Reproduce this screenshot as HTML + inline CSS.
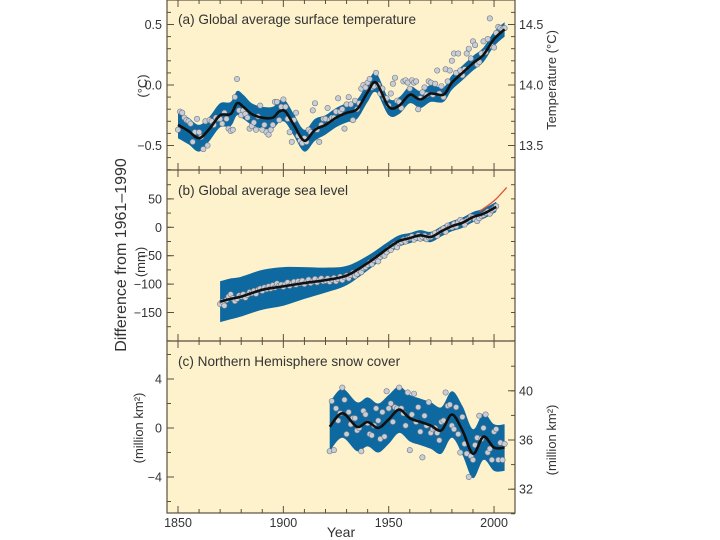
<!DOCTYPE html>
<html><head><meta charset="utf-8"><style>
html,body{margin:0;padding:0;background:#fff;}
svg{display:block;font-family:"Liberation Sans",sans-serif;}
</style></head><body>
<svg id="chart" width="720" height="540" viewBox="0 0 720 540">
<rect x="167" y="0" width="348" height="513" fill="#fdf2cc"/>
<g id="marks"></g>
<g id="axes"></g>
<text x="178" y="24" font-size="13.6" fill="#333">(a) Global average surface temperature</text>
<text x="178" y="195" font-size="13.6" fill="#333">(b) Global average sea level</text>
<text x="178" y="366" font-size="13.6" fill="#333">(c) Northern Hemisphere snow cover</text>
<text transform="translate(126,255) rotate(-90)" text-anchor="middle" font-size="16" fill="#333">Difference from 1961–1990</text>
<text transform="translate(147,86) rotate(-90)" text-anchor="middle" font-size="13" fill="#333">(°C)</text>
<text transform="translate(145,262) rotate(-90)" text-anchor="middle" font-size="13" fill="#333">(mm)</text>
<text transform="translate(143,428) rotate(-90)" text-anchor="middle" font-size="13" fill="#333">(million km²)</text>
<text transform="translate(556,80) rotate(-90)" text-anchor="middle" font-size="13" fill="#333">Temperature (°C)</text>
<text transform="translate(556,440) rotate(-90)" text-anchor="middle" font-size="13" fill="#333">(million km²)</text>
<text x="341" y="537" text-anchor="middle" font-size="14" fill="#333">Year</text>
</svg>
<script>
// ---- data ----
const tempStart = 1850;
const tempValues = [-0.37,-0.22,-0.23,-0.27,-0.29,-0.30,-0.32,-0.47,-0.39,-0.28,-0.39,-0.43,-0.53,-0.30,-0.50,-0.29,-0.30,-0.33,-0.27,-0.28,
-0.28,-0.32,-0.23,-0.28,-0.36,-0.38,-0.37,-0.10,0.05,-0.21,-0.25,-0.21,-0.24,-0.27,-0.36,-0.34,-0.31,-0.37,-0.26,-0.17,
-0.37,-0.33,-0.39,-0.41,-0.37,-0.33,-0.14,-0.14,-0.29,-0.18,-0.12,-0.18,-0.28,-0.39,-0.47,-0.29,-0.23,-0.42,-0.46,-0.48,
-0.44,-0.47,-0.37,-0.39,-0.21,-0.15,-0.37,-0.47,-0.33,-0.28,-0.28,-0.19,-0.29,-0.27,-0.27,-0.22,-0.11,-0.22,-0.20,-0.36,
-0.16,-0.10,-0.16,-0.29,-0.13,-0.20,-0.15,-0.03,0.00,-0.02,0.02,0.05,-0.02,-0.01,0.10,0.00,-0.07,-0.03,-0.11,-0.11,
-0.17,-0.07,0.01,0.06,-0.13,-0.14,-0.19,0.03,0.04,0.02,-0.03,0.04,0.02,0.03,-0.20,-0.11,-0.06,-0.02,-0.08,0.03,
0.02,-0.08,0.01,0.12,-0.07,-0.01,-0.10,0.13,0.03,0.12,0.20,0.26,0.10,0.26,0.12,0.08,0.13,0.26,0.30,0.22,
0.36,0.33,0.17,0.19,0.26,0.36,0.27,0.38,0.55,0.32,0.31,0.43,0.48,0.47,0.46,0.47];
const tempSmoothYears = [1850,1855,1860,1865,1870,1875,1878,1881,1885,1890,1895,1898,1901,1905,1910,1915,1920,1925,1930,1935,1940,1944,1950,1955,1960,1965,1970,1976,1980,1985,1990,1995,2000,2005];
const tempSmooth = [-0.33,-0.38,-0.44,-0.36,-0.25,-0.24,-0.15,-0.18,-0.24,-0.27,-0.27,-0.22,-0.22,-0.33,-0.46,-0.37,-0.33,-0.27,-0.23,-0.20,-0.06,0.02,-0.18,-0.17,-0.08,-0.12,-0.07,-0.08,0.02,0.10,0.18,0.25,0.38,0.46];
const tempBand = [0.11,0.11,0.11,0.10,0.10,0.10,0.10,0.10,0.09,0.09,0.09,0.09,0.09,0.09,0.09,0.09,0.08,0.08,0.08,0.08,0.08,0.08,0.07,0.07,0.07,0.07,0.07,0.06,0.06,0.06,0.06,0.06,0.06,0.06];

const seaStart = 1870;
const seaValues = [-135,-131,-138,-128,-122,-118,-125,-130,-126,-120,
-122,-118,-124,-119,-114,-116,-112,-117,-110,-108,
-112,-106,-109,-104,-108,-102,-106,-99,-103,-101,
-105,-100,-97,-103,-99,-96,-101,-95,-98,-94,
-100,-96,-92,-98,-95,-91,-97,-93,-90,-95,
-94,-90,-96,-92,-89,-95,-91,-87,-93,-88,
-85,-90,-84,-80,-86,-82,-76,-79,-72,-70,
-66,-62,-65,-58,-55,-60,-52,-48,-50,-44,
-38,-40,-33,-30,-35,-28,-26,-22,-25,-20,
-19,-16,-22,-18,-14,-20,-17,-15,-21,-18,
-17,-13,-10,-15,-8,-5,-2,-8,3,0,
0,6,2,9,13,10,5,12,14,19,
18,14,11,16,20,22,25,28,24,30,
33,37];
const seaSmoothYears = [1870,1875,1880,1890,1900,1910,1920,1930,1940,1950,1955,1960,1965,1970,1975,1980,1985,1990,1995,2001];
const seaSmooth = [-131,-126,-122,-110,-104,-98,-93,-85,-63,-36,-24,-19,-14,-17,-7,2,8,18,24,36];
const seaBand = [36,36,35,35,34,28,22,17,13,11,10,9,9,9,9,9,9,9,9,9];
const satYears = [1993,1997,2001,2006];
const satValues = [28,38,50,70];

const snowStart = 1922;
const snowValues = [-1.9,2.2,-1.8,1.6,0.6,1.2,3.3,2.3,-0.5,1.3,0.3,0.8,0.8,-0.2,0.0,-1.9,1.4,1.1,0.4,-0.5,
-0.6,0.2,1.6,0.6,-0.9,1.3,-0.7,3.0,1.6,2.0,0.5,1.7,1.6,3.3,1.6,1.2,0.2,2.9,-1.8,1.1,
2.8,0.5,1.7,-0.3,-2.4,1.0,0.2,2.1,-0.4,-0.1,0.0,-0.4,-1.0,0.5,0.6,2.9,1.8,1.9,0.2,-0.1,
1.7,-0.5,-2.0,0.9,-1.3,-2.1,-4.0,-2.3,-2.6,-1.4,-0.8,1.0,-0.9,0.0,1.1,-2.0,-1.7,-2.6,-0.3,-0.1,
-2.6,-1.2,-2.6,-1.3];
const snowSmoothYears = [1922,1928,1935,1940,1945,1950,1955,1960,1965,1970,1975,1980,1985,1990,1995,2000,2005];
const snowSmooth = [0.1,1.2,0.1,0.5,0.0,0.7,1.5,0.8,0.5,0.2,-0.2,1.1,-0.2,-2.1,-0.7,-1.6,-1.6];
const snowBand = [2.0,2.0,2.0,2.0,2.0,2.0,1.9,1.9,1.9,1.9,1.9,1.9,2.0,2.0,1.9,1.9,1.9];

// ---- scales ----
const xs = yr => 178 + (yr - 1850) * 2.107;
const ya = v => 85 - v * 121;
const yb = v => 227.3 - v * 0.568;
const yc = v => 428 - v * 12.25;
const ycr = v => 440 - (v - 36) * 12.3;

const NS = "http://www.w3.org/2000/svg";
const marks = document.getElementById('marks');
const axes = document.getElementById('axes');
function mk(tag, attrs, parent) {
  const e = document.createElementNS(NS, tag);
  for (const k in attrs) e.setAttribute(k, attrs[k]);
  parent.appendChild(e);
  return e;
}
function spline(pts) {
  let d = 'M' + pts[0][0].toFixed(1) + ',' + pts[0][1].toFixed(1);
  for (let i = 0; i < pts.length - 1; i++) {
    const p0 = pts[Math.max(0, i - 1)], p1 = pts[i], p2 = pts[i + 1], p3 = pts[Math.min(pts.length - 1, i + 2)];
    const c1 = [p1[0] + (p2[0] - p0[0]) / 6, p1[1] + (p2[1] - p0[1]) / 6];
    const c2 = [p2[0] - (p3[0] - p1[0]) / 6, p2[1] - (p3[1] - p1[1]) / 6];
    d += 'C' + c1[0].toFixed(1) + ',' + c1[1].toFixed(1) + ' ' + c2[0].toFixed(1) + ',' + c2[1].toFixed(1) + ' ' + p2[0].toFixed(1) + ',' + p2[1].toFixed(1);
  }
  return d;
}
function splineRev(pts) {
  const r = pts.slice().reverse();
  return spline(r).replace(/^M/, 'L');
}
function drawPanel(key, years, smooth, band, start, values, ys) {
  const up = years.map((y, i) => [xs(y), ys(smooth[i] + band[i])]);
  const lo = years.map((y, i) => [xs(y), ys(smooth[i] - band[i])]);
  const b = mk('path', {d: spline(up) + splineRev(lo) + 'Z', fill: '#0e69a0'}, marks);
  
  
  values.forEach((v, i) => {
    const c = mk('circle', {cx: xs(start + i).toFixed(1), cy: ys(v).toFixed(1), r: 2.7, fill: '#c9cdd6', stroke: '#6f7884', 'stroke-width': 0.6}, marks);
    
    
  });
  const l = mk('path', {d: spline(years.map((y, i) => [xs(y), ys(smooth[i])])), fill: 'none', stroke: '#111', 'stroke-width': 2.6}, marks);
  
  
}
drawPanel('temperature', tempSmoothYears, tempSmooth, tempBand, tempStart, tempValues, ya);
drawPanel('sea-level', seaSmoothYears, seaSmooth, seaBand, seaStart, seaValues, yb);
drawPanel('snow-cover', snowSmoothYears, snowSmooth, snowBand, snowStart, snowValues, yc);
const sat = mk('path', {d: spline(satYears.map((y, i) => [xs(y), yb(satValues[i])])), fill: 'none', stroke: '#e0553a', 'stroke-width': 1.3}, marks);



// ---- axes ----
const C = '#5a5040';
const frame = mk('rect', {x: 167, y: 0, width: 348, height: 513, fill: 'none', stroke: C, 'stroke-width': 1.2}, axes);


[170, 341].forEach(y => {
  const l = mk('line', {x1: 167, x2: 515, y1: y, y2: y, stroke: C, 'stroke-width': 1.2}, axes);
  
  
});
for (let yr = 1850; yr <= 2000; yr += 10) {
  const x = xs(yr), len = yr % 50 === 0 ? 7 : 4;
  [[0, 1], [170, -1], [170, 1], [341, -1], [341, 1], [513, -1]].forEach(([y, dir]) => {
    mk('line', {x1: x, x2: x, y1: y, y2: y + dir * len, stroke: C, 'stroke-width': 1}, axes);
  });
}
const xLabels = [1850, 1900, 1950, 2000];
xLabels.forEach(yr => {
  const t = mk('text', {x: xs(yr), y: 527, 'text-anchor': 'middle', 'font-size': 12.5, fill: '#333'}, axes);
  t.textContent = yr;
  
  
});
function yTicks(scale, vals, labels, minorStep, lo, hi, side) {
  const x0 = side === 'left' ? 167 : 515, dir = side === 'left' ? 1 : -1;
  for (let v = lo; v <= hi + 1e-9; v += minorStep) {
    const y = scale(v);
    mk('line', {x1: x0, x2: x0 + dir * 4, y1: y, y2: y, stroke: C, 'stroke-width': 1}, axes);
  }
  vals.forEach((v, i) => {
    const y = scale(v);
    mk('line', {x1: x0, x2: x0 + dir * 7, y1: y, y2: y, stroke: C, 'stroke-width': 1}, axes);
    const t = mk('text', {x: side === 'left' ? 162 : 519, y: y + 4.5, 'text-anchor': side === 'left' ? 'end' : 'start', 'font-size': 12.5, fill: '#333'}, axes);
    t.textContent = labels[i];
    
    
  });
}
yTicks(ya, [0.5, 0, -0.5], ['0.5', '0.0', '−0.5'], 0.1, -0.7, 0.6, 'left');
yTicks(v => 85 - (v - 14) * 121, [14.5, 14.0, 13.5], ['14.5', '14.0', '13.5'], 0.1, 13.4, 14.6, 'right');
yTicks(yb, [50, 0, -50, -100, -150], ['50', '0', '−50', '−100', '−150'], 25, -200, 75, 'left');
yTicks(yb, [], [], 25, -200, 75, 'right');
yTicks(yc, [4, 0, -4], ['4', '0', '−4'], 2, -6, 6, 'left');
yTicks(ycr, [40, 36, 32], ['40', '36', '32'], 2, 30, 42, 'right');
</script>
</body></html>
